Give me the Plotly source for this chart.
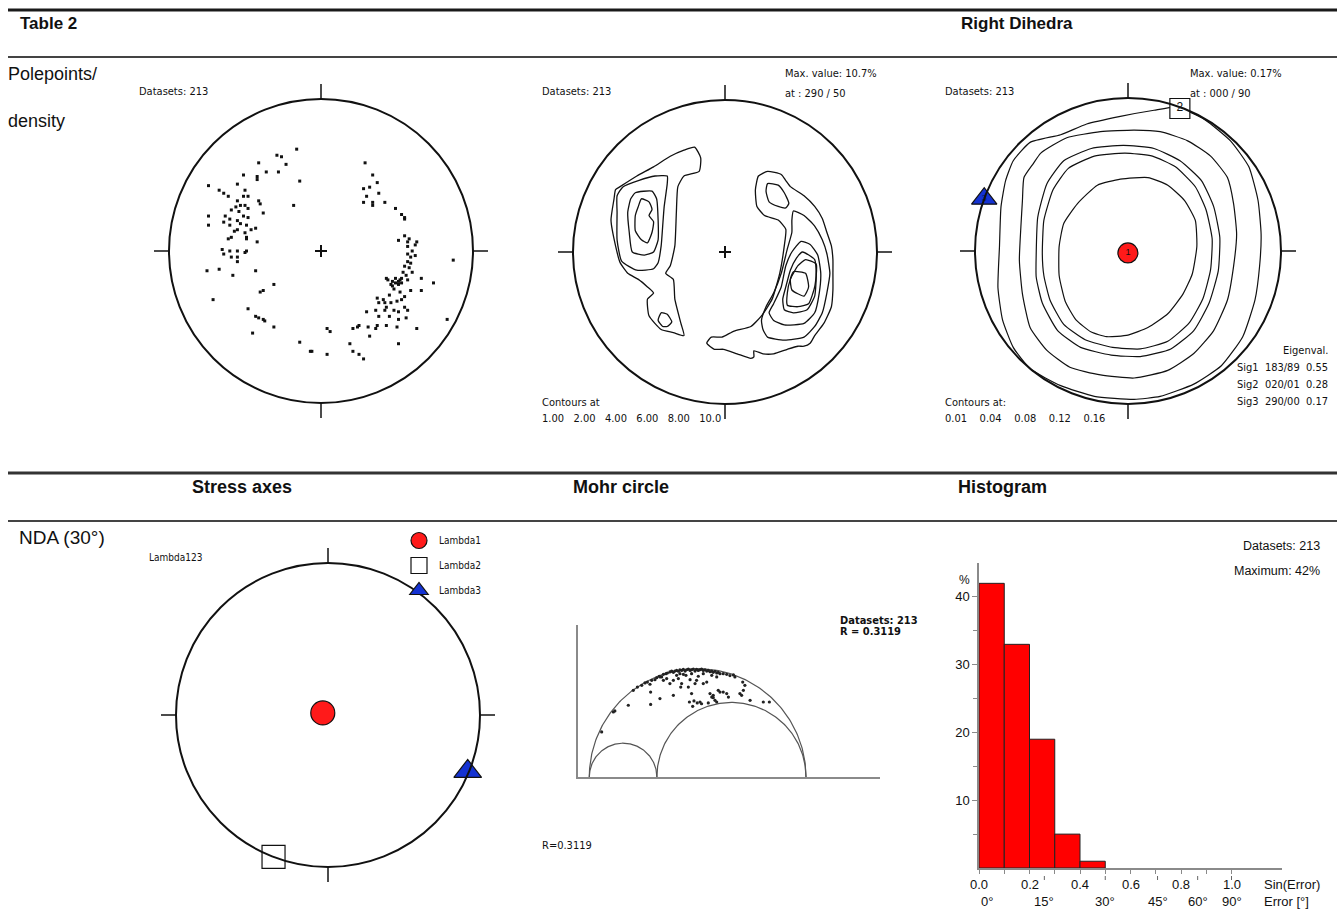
import math
import numpy as np
import plotly.graph_objects as go

W, H = 1337, 912
FONT = "Liberation Sans, Arial, Helvetica, sans-serif"
NARROW = "Liberation Sans Narrow, Arial Narrow, DejaVu Sans Condensed, Liberation Sans, sans-serif"

# ---------------- DATA ----------------
# Panel 1 – pole points, equal-area net coordinates (east, north), unit radius
pole_points_west = [
    (-0.16, 0.67), (-0.29, 0.63), (-0.26, 0.62), (-0.23, 0.57), (-0.41, 0.58), (-0.36, 0.52),
    (-0.28, 0.52), (-0.51, 0.50), (-0.42, 0.49), (-0.42, 0.47), (-0.14, 0.46), (-0.74, 0.43),
    (-0.55, 0.44), (-0.67, 0.40), (-0.64, 0.38), (-0.61, 0.36), (-0.50, 0.40), (-0.51, 0.36),
    (-0.48, 0.36), (-0.41, 0.33), (-0.40, 0.31), (-0.55, 0.33), (-0.53, 0.30), (-0.56, 0.29),
    (-0.50, 0.30), (-0.59, 0.27), (-0.54, 0.26), (-0.48, 0.28), (-0.38, 0.25), (-0.74, 0.23),
    (-0.63, 0.23), (-0.60, 0.21), (-0.55, 0.20), (-0.51, 0.23), (-0.48, 0.22), (-0.64, 0.19),
    (-0.60, 0.17), (-0.53, 0.18), (-0.49, 0.17), (-0.46, 0.14), (-0.74, 0.17), (-0.57, 0.13),
    (-0.55, 0.14), (-0.50, 0.12), (-0.49, 0.09), (-0.43, 0.15), (-0.61, 0.08), (-0.59, 0.09),
    (-0.49, 0.08), (-0.42, 0.06), (-0.65, 0.01), (-0.60, 0.00), (-0.55, 0.00), (-0.49, 0.00),
    (-0.50, -0.01), (-0.64, -0.02), (-0.59, -0.04), (-0.55, -0.04), (-0.55, -0.07), (-0.75, -0.13),
    (-0.67, -0.12), (-0.58, -0.16), (-0.43, -0.13), (-0.31, -0.22), (-0.40, -0.27), (-0.38, -0.26),
    (-0.71, -0.32), (-0.48, -0.38), (-0.43, -0.43), (-0.41, -0.44), (-0.38, -0.45), (-0.37, -0.46),
    (-0.45, -0.54), (-0.31, -0.50), (-0.18, 0.30),
]
pole_points_east = [
    (0.29, 0.58), (0.34, 0.50), (0.37, 0.45), (0.32, 0.42), (0.28, 0.41), (0.38, 0.38),
    (0.30, 0.36), (0.28, 0.32), (0.34, 0.32), (0.34, 0.30), (0.42, 0.32), (0.49, 0.28),
    (0.53, 0.24), (0.55, 0.21), (0.55, 0.22), (0.55, 0.10), (0.51, 0.07), (0.57, 0.06),
    (0.63, 0.06), (0.57, 0.03), (0.60, 0.00), (0.57, -0.02), (0.59, -0.04), (0.57, -0.07),
    (0.59, -0.08), (0.55, -0.10), (0.60, -0.14), (0.56, -0.16), (0.53, -0.18), (0.51, -0.20),
    (0.49, -0.21), (0.47, -0.23), (0.44, -0.19), (0.43, -0.18), (0.53, -0.21), (0.57, -0.19),
    (0.66, -0.18), (0.74, -0.21), (0.87, -0.06), (0.48, -0.25), (0.45, -0.29), (0.52, -0.27),
    (0.55, -0.30), (0.59, -0.26), (0.66, -0.26), (0.37, -0.31), (0.41, -0.32), (0.38, -0.34),
    (0.42, -0.34), (0.46, -0.34), (0.50, -0.33), (0.53, -0.32), (0.43, -0.37), (0.55, -0.37),
    (0.36, -0.39), (0.42, -0.39), (0.48, -0.39), (0.51, -0.40), (0.57, -0.39), (0.30, -0.40),
    (0.38, -0.43), (0.45, -0.43), (0.51, -0.45), (0.56, -0.44), (0.25, -0.49), (0.31, -0.50),
    (0.37, -0.49), (0.36, -0.51), (0.43, -0.49), (0.50, -0.50), (0.63, -0.51), (0.83, -0.45),
    (0.21, -0.51), (0.24, -0.50), (0.32, -0.56), (0.51, -0.61), (0.19, -0.61), (0.21, -0.66),
    (0.25, -0.68), (0.28, -0.71), (0.04, -0.51), (0.06, -0.53), (-0.14, -0.60), (-0.07, -0.66),
    (-0.06, -0.66), (0.04, -0.68), (0.49, -0.18), (0.47, -0.20), (0.51, -0.22), (0.52, -0.19),
    (0.46, -0.22), (0.54, -0.14), (0.58, -0.11), (0.62, -0.03), (0.62, 0.04), (0.58, 0.08),
]

# Panel 2 – density contours of pole points (% per 1% area), net coords in % of radius
contour_levels_density = ["1.00", "2.00", "4.00", "6.00", "8.00", "10.0"]
dens_w_100 = [(-20, 69), (-16, 62), (-17, 53), (-27, 50), (-31, 43), (-32, 26), (-33, 4), (-36, -9),
              (-39, -14), (-34, -18), (-33, -31), (-29, -47), (-27, -55), (-34, -53), (-42, -51),
              (-50, -42), (-51, -31), (-47, -27), (-51, -23), (-57, -18), (-64, -14), (-69, -7),
              (-72, 4), (-75, 21), (-73, 35), (-72, 41), (-69, 43), (-58, 50), (-47, 56), (-36, 63),
              (-27, 67)]
dens_w_200_island = [(-42, -40), (-38, -41), (-35, -46), (-38, -49), (-41, -49), (-44, -45)]
dens_w_200 = [(-46, 50), (-38, 50), (-38, 45), (-40, 30), (-41, 17), (-42, 4), (-44, -7), (-47, -11),
              (-58, -12), (-68, -6), (-71, 8), (-71, 26), (-71, 37), (-67, 43), (-57, 47)]
dens_w_400 = [(-59, 39), (-48, 40), (-45, 35), (-44, 21), (-44, 8), (-47, 0), (-53, -2), (-61, 0),
              (-63, 13), (-64, 26), (-62, 35)]
dens_w_600 = [(-55, 35), (-50, 33), (-48, 28), (-50, 24), (-47, 20), (-48, 13), (-51, 6), (-55, 8),
              (-59, 14), (-59, 24), (-57, 30)]
dens_e_100 = [(28, 53), (37, 51), (40, 47), (43, 43), (52, 37), (59, 30), (64, 22), (67, 13), (70, 4),
              (71, -5), (71, -14), (71, -25), (70, -36), (65, -47), (59, -55), (56, -60), (52, -62),
              (48, -62), (41, -64), (32, -67), (25, -67), (19, -65), (19, -69), (17, -70), (8, -67),
              (-1, -64), (-7, -64), (-12, -60), (-9, -56), (-2, -56), (6, -52), (17, -49), (24, -42),
              (31, -31), (36, -14), (39, 4), (40, 15), (35, 21), (26, 24), (21, 30), (20, 41), (22, 50)]
dens_e_200_island = [(28, 45), (35, 44), (39, 39), (42, 32), (40, 29), (35, 30), (29, 33), (27, 40)]
dens_e_200 = [(45, 27), (52, 24), (59, 17), (64, 8), (67, -1), (69, -14), (67, -27), (64, -40), (59, -49),
              (52, -56), (39, -58), (28, -56), (25, -51), (24, -45), (27, -36), (32, -27), (37, -14),
              (41, 2), (44, 13), (44, 21)]
dens_e_400 = [(50, 7), (56, 5), (61, -2), (63, -14), (62, -27), (59, -40), (52, -47), (39, -48), (32, -45),
              (29, -40), (32, -34), (37, -23), (40, -9), (44, 0)]
dens_e_600 = [(51, 0), (59, -5), (60, -16), (59, -29), (54, -38), (45, -40), (39, -38), (38, -31),
              (40, -23), (43, -12), (47, -4)]
dens_e_800 = [(53, -5), (60, -8), (59, -23), (55, -34), (48, -36), (41, -35), (41, -27), (43, -18), (48, -9)]
dens_e_1000 = [(45, -13), (53, -14), (55, -23), (52, -29), (44, -25), (43, -18)]

# Panel 3 – right dihedra contours, net coords in % of radius
contour_levels_dihedra = ["0.01", "0.04", "0.08", "0.12", "0.16"]
rd_001 = [(-75, 59), (-64, 71), (-44, 76), (-27, 83), (-5, 88), (17, 92), (32, 94), (50, 86), (67, 72),
          (79, 55), (85, 33), (87, 11), (86, -10), (83, -32), (75, -56), (61, -75), (43, -87), (21, -95),
          (4, -97), (-22, -95), (-44, -88), (-64, -77), (-75, -63), (-82, -45), (-85, -24), (-84, 3),
          (-83, 29), (-80, 46)]
rd_004 = [(-69, 33), (-68, 48), (-62, 57), (-57, 64), (-40, 74), (-18, 78), (4, 79), (21, 78), (39, 72),
          (54, 62), (65, 48), (69, 31), (71, 11), (69, -10), (65, -32), (56, -52), (43, -67), (26, -78),
          (4, -83), (-18, -81), (-38, -76), (-53, -65), (-64, -50), (-69, -28), (-71, -6), (-70, 16)]
rd_008 = [(-60, -2), (-59, 22), (-53, 44), (-42, 59), (-24, 67), (-3, 69), (17, 67), (34, 59), (48, 46),
          (56, 29), (60, 9), (59, -13), (53, -34), (43, -52), (28, -64), (8, -69), (-11, -68), (-31, -63),
          (-46, -52), (-56, -34), (-60, -17)]
rd_012 = [(-56, -2), (-55, 20), (-49, 40), (-39, 54), (-22, 62), (-2, 64), (16, 62), (31, 55), (44, 42),
          (51, 27), (55, 8), (54, -12), (49, -31), (40, -47), (26, -59), (8, -64), (-10, -63), (-28, -58),
          (-42, -48), (-51, -32), (-55, -16)]
rd_016 = [(-5, 47), (13, 48), (26, 43), (37, 33), (44, 20), (45, 3), (42, -15), (36, -28), (26, -41),
          (13, -50), (0, -55), (-14, -56), (-24, -53), (-34, -45), (-41, -33), (-45, -16), (-45, 3),
          (-42, 18), (-33, 31), (-20, 43)]
sig_names = ["Sig1", "Sig2", "Sig3"]
sig_trend = [183, 20, 290]
sig_plunge = [89, 1, 0]
sig_eigen = [0.55, 0.28, 0.17]

# Panel 4 – NDA stress axes (trend / plunge)
lambda_names = ["Lambda1", "Lambda2", "Lambda3"]
lambda_trend = [292, 201, 112]
lambda_plunge = [87, 0, 1]

# Panel 5 – Mohr circle (normalised: sigma3 = 0, sigma1 = 1)
R_ratio = 0.3119
mohr_sigma = [1.0, R_ratio, 0.0]
mohr_sn = [0.057, 0.111, 0.118, 0.180, 0.203, 0.222, 0.242, 0.257, 0.268, 0.280, 0.288, 0.303, 0.311,
           0.323, 0.334, 0.342, 0.354, 0.360, 0.372, 0.380, 0.388, 0.395, 0.403, 0.411, 0.418, 0.426,
           0.434, 0.442, 0.449, 0.457, 0.465, 0.472, 0.480, 0.488, 0.495, 0.503, 0.511, 0.518, 0.526,
           0.534, 0.542, 0.549, 0.557, 0.565, 0.572, 0.580, 0.588, 0.595, 0.603, 0.618, 0.634, 0.649,
           0.665, 0.672,
           0.283, 0.326, 0.283, 0.372, 0.388, 0.411, 0.422, 0.426, 0.446, 0.457, 0.465, 0.472, 0.477,
           0.488, 0.495, 0.503, 0.511, 0.518, 0.526, 0.542, 0.549, 0.557, 0.572, 0.580, 0.588, 0.595,
           0.603, 0.618, 0.634, 0.642, 0.695, 0.703, 0.711, 0.708, 0.718, 0.742, 0.803, 0.831, 0.326,
           0.342, 0.357, 0.403, 0.418, 0.434, 0.472, 0.526, 0.565, 0.588, 0.388, 0.462, 0.483, 0.498,
           0.565, 0.572]
mohr_tau = [0.208, 0.300, 0.305, 0.331, 0.400, 0.415, 0.423, 0.434, 0.438, 0.428, 0.446, 0.449, 0.458,
            0.465, 0.462, 0.474, 0.477, 0.480, 0.485, 0.489, 0.483, 0.489, 0.492, 0.488, 0.495, 0.492,
            0.497, 0.489, 0.495, 0.498, 0.492, 0.495, 0.498, 0.489, 0.497, 0.492, 0.495, 0.498, 0.492,
            0.495, 0.489, 0.492, 0.486, 0.489, 0.483, 0.488, 0.480, 0.483, 0.477, 0.477, 0.474, 0.468,
            0.471, 0.462,
            0.392, 0.362, 0.335, 0.431, 0.446, 0.454, 0.415, 0.431, 0.469, 0.415, 0.449, 0.385, 0.326,
            0.431, 0.446, 0.465, 0.346, 0.338, 0.431, 0.438, 0.342, 0.385, 0.366, 0.354, 0.346, 0.400,
            0.392, 0.392, 0.385, 0.369, 0.385, 0.377, 0.400, 0.438, 0.423, 0.354, 0.346, 0.346, 0.462,
            0.446, 0.454, 0.469, 0.477, 0.474, 0.477, 0.477, 0.469, 0.462, 0.377, 0.346, 0.351, 0.342,
            0.369, 0.377]

# Panel 6 – histogram of misfit
hist_centers = [0.05, 0.15, 0.25, 0.35, 0.45]
hist_percent = [42, 33, 19, 5, 1]
sin_labels = ["0.0", "0.2", "0.4", "0.6", "0.8", "1.0"]
sin_values = [0.0, 0.2, 0.4, 0.6, 0.8, 1.0]
err_degrees = [0, 15, 30, 45, 60, 90]

# ---------------- HELPERS ----------------
fig = go.Figure()
axes = {}
shapes = []
annotations = []


def px_x(x):
    return x / W


def px_y(y):
    return 1 - y / H


def add_axes(i, x0, x1, y0, y1, xr, yr, xextra=None, yextra=None):
    sfx = "" if i == 1 else str(i)
    base = dict(showgrid=False, zeroline=False, showticklabels=False, ticks="",
                showline=False, fixedrange=True)
    xa = dict(base, domain=[px_x(x0), px_x(x1)], range=xr, anchor="y" + sfx)
    ya = dict(base, domain=[px_y(y1), px_y(y0)], range=yr, anchor="x" + sfx)
    if xextra:
        xa.update(xextra)
    if yextra:
        ya.update(yextra)
    axes["xaxis" + sfx] = xa
    axes["yaxis" + sfx] = ya
    return "x" + sfx, "y" + sfx


def txt(x, y, s, size=11, bold=False, anchor="left", family=FONT, color="#111"):
    annotations.append(dict(x=px_x(x), y=px_y(y), xref="paper", yref="paper",
                            text=f"<b>{s}</b>" if bold else s, showarrow=False,
                            xanchor=anchor, yanchor="middle",
                            font=dict(size=size, family=family, color=color)))


def proj(trend, plunge):
    r = math.sqrt(2) * math.sin(math.radians(90 - plunge) / 2)
    return r * math.sin(math.radians(trend)), r * math.cos(math.radians(trend))


def net(i, cx, cy, R, cross=True):
    E = 172
    xr, yr = add_axes(i, cx - E, cx + E, cy - E, cy + E, [-E / R, E / R], [-E / R, E / R])
    shapes.append(dict(type="circle", xref=xr, yref=yr, x0=-1, x1=1, y0=-1, y1=1,
                       line=dict(color="#111", width=2)))
    t = 15 / R
    for (ax0, ay0, ax1, ay1) in [(0, 1, 0, 1 + t), (0, -1, 0, -1 - t), (1, 0, 1 + t, 0), (-1, 0, -1 - t, 0)]:
        shapes.append(dict(type="line", xref=xr, yref=yr, x0=ax0, y0=ay0, x1=ax1, y1=ay1,
                           line=dict(color="#111", width=1.5)))
    if cross:
        c = 6 / R
        shapes.append(dict(type="line", xref=xr, yref=yr, x0=-c, x1=c, y0=0, y1=0,
                           line=dict(color="#111", width=2)))
        shapes.append(dict(type="line", xref=xr, yref=yr, x0=0, x1=0, y0=-c, y1=c,
                           line=dict(color="#111", width=2)))
    return xr, yr


def poly(xr, yr, pts, width=1.3):
    xs = [p[0] / 100 for p in pts] + [pts[0][0] / 100]
    ys = [p[1] / 100 for p in pts] + [pts[0][1] / 100]
    fig.add_trace(go.Scatter(x=xs, y=ys, xaxis=xr, yaxis=yr, mode="lines",
                             line=dict(color="#111", width=width, shape="spline", smoothing=0.5),
                             showlegend=False, hoverinfo="skip"))


# ---------------- PANEL 1: pole points ----------------
xr, yr = net(1, 321, 251, 152)
pts = pole_points_west + pole_points_east
fig.add_trace(go.Scatter(x=[p[0] for p in pts], y=[p[1] for p in pts], xaxis=xr, yaxis=yr,
                         mode="markers", marker=dict(symbol="square", size=3, color="#111"),
                         showlegend=False, hoverinfo="skip"))

# ---------------- PANEL 2: density ----------------
xr, yr = net(2, 725, 252, 152)
for c in [dens_w_100, dens_w_200_island, dens_w_200, dens_w_400, dens_w_600,
          dens_e_100, dens_e_200_island, dens_e_200, dens_e_400, dens_e_600, dens_e_800, dens_e_1000]:
    poly(xr, yr, c)

# ---------------- PANEL 3: right dihedra ----------------
xr, yr = net(3, 1128, 251, 153, cross=False)
for c in [rd_001, rd_004, rd_008, rd_012, rd_016]:
    poly(xr, yr, c, width=1.2)
sym3 = ["circle", "square", "triangle-up"]
col3 = ["#ff1a1a", "#ffffff", "#1432d2"]
siz3 = [20, 20, 22]
for k in range(3):
    x, y = proj(sig_trend[k], sig_plunge[k])
    fig.add_trace(go.Scatter(x=[x], y=[y], xaxis=xr, yaxis=yr, mode="markers+text",
                             marker=dict(symbol=sym3[k], size=siz3[k], color=col3[k],
                                         line=dict(color="#111", width=1.2)),
                             text=[str(k + 1)], textposition="middle center",
                             textfont=dict(size=12 if k == 1 else 9, family=FONT,
                                           color="#111" if k < 2 else "#0a1a70"),
                             showlegend=False, hoverinfo="skip"))

# ---------------- PANEL 4: stress axes ----------------
xr, yr = net(4, 328, 715, 152, cross=False)
sym4 = ["circle", "square", "triangle-up"]
col4 = ["#ff1a1a", "#ffffff", "#1432d2"]
siz4 = [24, 23, 24]
for k in range(3):
    x, y = proj(lambda_trend[k], lambda_plunge[k])
    fig.add_trace(go.Scatter(x=[x], y=[y], xaxis=xr, yaxis=yr, mode="markers",
                             marker=dict(symbol=sym4[k], size=siz4[k], color=col4[k],
                                         line=dict(color="#111", width=1.2)),
                             name=lambda_names[k], legendgroup=lambda_names[k],
                             showlegend=True, hoverinfo="skip"))

# ---------------- PANEL 5: Mohr circle ----------------
MX0, MX1, MY0, MY1 = 578, 880, 625, 777
S3PX, UNIT = 589.3, 216.7
xr, yr = add_axes(5, MX0, MX1, MY0, MY1,
                  [(MX0 - S3PX) / UNIT, (MX1 - S3PX) / UNIT], [0, (MY1 - MY0) / UNIT],
                  xextra=dict(showline=True, linecolor="#8a8a8a", linewidth=1.5),
                  yextra=dict(showline=True, linecolor="#8a8a8a", linewidth=1.5))
s1, s2, s3 = mohr_sigma
th = np.linspace(0, np.pi, 181)
for a, b in [(s3, s1), (s3, s2), (s2, s1)]:
    c, r = (a + b) / 2, (b - a) / 2
    fig.add_trace(go.Scatter(x=c + r * np.cos(th), y=r * np.sin(th), xaxis=xr, yaxis=yr,
                             mode="lines", line=dict(color="#555", width=1.2),
                             showlegend=False, hoverinfo="skip"))
fig.add_trace(go.Scatter(x=mohr_sn, y=mohr_tau, xaxis=xr, yaxis=yr, mode="markers",
                         marker=dict(symbol="circle", size=3.2, color="#222"),
                         showlegend=False, hoverinfo="skip"))

# ---------------- PANEL 6: histogram ----------------
HX0, HX1, HY0, HY1 = 979, 1282, 563, 868
xr, yr = add_axes(6, HX0, HX1, HY0, HY1, [0, 1.2], [0, 45],
                  xextra=dict(showline=True, linecolor="#8a8a8a", linewidth=1.5, ticks="outside",
                              tickvals=[round(0.1 * k, 1) for k in range(11)], ticklen=4,
                              tickcolor="#8a8a8a", tickwidth=1.2),
                  yextra=dict(showline=True, linecolor="#8a8a8a", linewidth=1.5, ticks="outside",
                              tickvals=[10, 20, 30, 40], ticklen=5, tickcolor="#8a8a8a",
                              tickwidth=1.2, showticklabels=True,
                              tickfont=dict(size=13, family=FONT, color="#111"),
                              minor=dict(tickvals=[5, 15, 25, 35], ticks="outside", ticklen=4,
                                         tickcolor="#8a8a8a", tickwidth=1.2)))
fig.add_trace(go.Bar(x=hist_centers, y=hist_percent, width=0.1, xaxis=xr, yaxis=yr,
                     marker=dict(color="#ff0000", line=dict(color="#222", width=1)),
                     showlegend=False, hoverinfo="skip"))
for s, v in zip(sin_labels, sin_values):
    annotations.append(dict(x=v, y=px_y(884), xref=xr, yref="paper", text=s, showarrow=False,
                            xanchor="center", yanchor="middle",
                            font=dict(size=13, family=FONT, color="#111")))
for d in err_degrees:
    v = math.sin(math.radians(d))
    annotations.append(dict(x=v, y=px_y(901), xref=xr, yref="paper", text=f"{d}°", showarrow=False,
                            xanchor="left" if d == 0 else "center", yanchor="middle",
                            font=dict(size=13, family=FONT, color="#111")))
    if 0 < d:
        shapes.append(dict(type="line", xref=xr, yref="paper", x0=v, x1=v,
                           y0=px_y(876), y1=px_y(880), line=dict(color="#666", width=1)))

# ---------------- TEXT / RULES ----------------
for y, w, col in [(10, 3, "#1a1a1a"), (57, 2, "#444"), (473, 3, "#333"), (521, 2, "#444")]:
    shapes.append(dict(type="line", xref="paper", yref="paper", x0=px_x(8), x1=1,
                       y0=px_y(y), y1=px_y(y), line=dict(color=col, width=w)))

txt(18, 24, "Table 2", 17, bold=True)
txt(1017, 24, "Right Dihedra", 17, bold=True, anchor="center")
txt(6, 74, "Polepoints/", 18)
txt(6, 121, "density", 18)
txt(137, 92, "Datasets: 213", 11, family=NARROW)
txt(540, 92, "Datasets: 213", 11, family=NARROW)
txt(783, 74, "Max. value: 10.7%", 11, family=NARROW)
txt(783, 93, "at : 290 / 50", 11, family=NARROW)
txt(540, 402, "Contours at", 11, family=NARROW)
txt(540, 419, "&nbsp;&nbsp;&nbsp;".join(contour_levels_density), 11, family=NARROW)
txt(943, 92, "Datasets: 213", 11, family=NARROW)
txt(1188, 74, "Max. value: 0.17%", 11, family=NARROW)
txt(1188, 93, "at : 000 / 90", 11, family=NARROW)
txt(943, 402, "Contours at:", 11, family=NARROW)
txt(943, 419, "&nbsp;&nbsp;&nbsp;&nbsp;".join(contour_levels_dihedra), 11, family=NARROW)
txt(1330, 350, "Eigenval.", 11, anchor="right", family=NARROW)
for k in range(3):
    tr = f"{sig_trend[k]:03d}/{sig_plunge[k]:02d}"
    txt(1330, 367 + 17 * k, f"{sig_names[k]}&nbsp;&nbsp;{tr}&nbsp;&nbsp;{sig_eigen[k]:.2f}", 11,
        anchor="right", family=NARROW)

txt(242, 487, "Stress axes", 18, bold=True, anchor="center")
txt(621, 487, "Mohr circle", 18, bold=True, anchor="center")
txt(1002, 487, "Histogram", 18, bold=True, anchor="center")
txt(17, 537, "NDA (30°)", 19)
txt(147, 557, "Lambda123", 10, family=NARROW)

txt(838, 620, "Datasets: 213", 11, bold=True, family=NARROW)
txt(838, 631, f"R = {R_ratio}", 11, bold=True, family=NARROW)
txt(540, 845, f"R={R_ratio}", 11, family=NARROW)

txt(1322, 546, "Datasets: 213", 12.5, anchor="right")
txt(1322, 571, f"Maximum: {max(hist_percent)}%", 12.5, anchor="right")
txt(964, 580, "%", 12, anchor="center")
txt(1262, 884, "Sin(Error)", 13)
txt(1262, 901, "Error [°]", 13)

fig.update_layout(
    width=W, height=H, margin=dict(l=0, r=0, t=0, b=0),
    paper_bgcolor="white", plot_bgcolor="rgba(0,0,0,0)",
    shapes=shapes, annotations=annotations,
    showlegend=True,
    legend=dict(x=px_x(399), y=px_y(526), xanchor="left", yanchor="top",
                bgcolor="rgba(0,0,0,0)", font=dict(size=10, family=NARROW, color="#111"),
                tracegroupgap=6, itemsizing="trace", itemwidth=30),
    font=dict(family=FONT, color="#111"),
    **axes,
)
fig.write_html("out.html")
